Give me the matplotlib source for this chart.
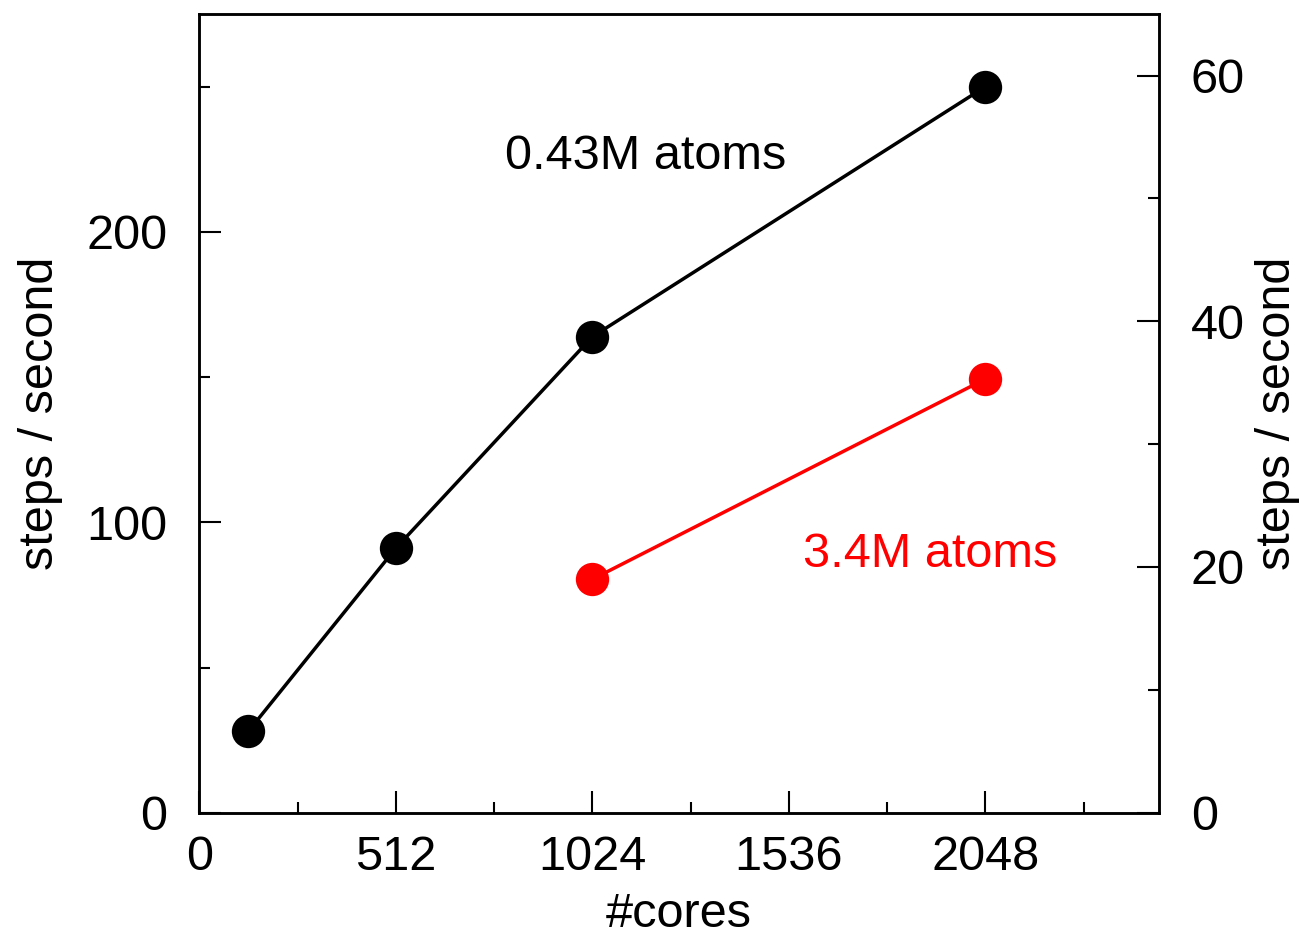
import matplotlib
matplotlib.use("Agg")
import matplotlib.pyplot as plt
from matplotlib.ticker import MultipleLocator

plt.rcParams['font.family'] = ['Liberation Sans', 'DejaVu Sans']

cores_small = [128, 512, 1024, 2048]
steps_small = [28.1, 91.1, 163.9, 250.0]
cores_large = [1024, 2048]
steps_large = [19.0, 35.3]
xticks = [0, 512, 1024, 1536, 2048]
label_small = "0.43M atoms"
label_large = "3.4M atoms"

FS = 35

fig = plt.figure(figsize=(13.08, 9.39), dpi=100)
ax = fig.add_axes([0.1524, 0.1345, 0.886 - 0.1524, 0.985 - 0.1345])
ax2 = ax.twinx()

ax.plot(cores_small, steps_small, color='black', lw=2.5, marker='o', ms=24,
        markeredgewidth=0, zorder=3)
ax2.plot(cores_large, steps_large, color='red', lw=2.5, marker='o', ms=24,
         markeredgewidth=0, zorder=3)

ax.set_xlim(0, 2500)
ax.set_ylim(0, 275)
ax2.set_ylim(0, 65)

ax.set_xticks(xticks)
ax.xaxis.set_minor_locator(MultipleLocator(256))
ax.yaxis.set_major_locator(MultipleLocator(100))
ax.yaxis.set_minor_locator(MultipleLocator(50))
ax2.yaxis.set_major_locator(MultipleLocator(20))
ax2.yaxis.set_minor_locator(MultipleLocator(10))

for a in (ax, ax2):
    a.tick_params(which='major', direction='in', length=16, width=1.5, labelsize=FS)
    a.tick_params(which='minor', direction='in', length=8, width=1.5)
    for s in a.spines.values():
        s.set_linewidth(1.8)
ax.tick_params(axis='x', which='both', top=False, pad=16)
ax.tick_params(axis='y', pad=23)
ax2.tick_params(axis='y', pad=23)

ax.set_xlabel("#cores", fontsize=FS, labelpad=9)
ax.set_ylabel("steps / second", fontsize=FS, labelpad=17)
ax2.set_ylabel("steps / second", fontsize=FS, labelpad=7)

ax.text(1163, 226, label_small, fontsize=FS, color='black', ha='center', va='center')
ax2.text(1903, 21.0, label_large, fontsize=FS, color='red', ha='center', va='center')

fig.savefig("out.png", dpi=100)
